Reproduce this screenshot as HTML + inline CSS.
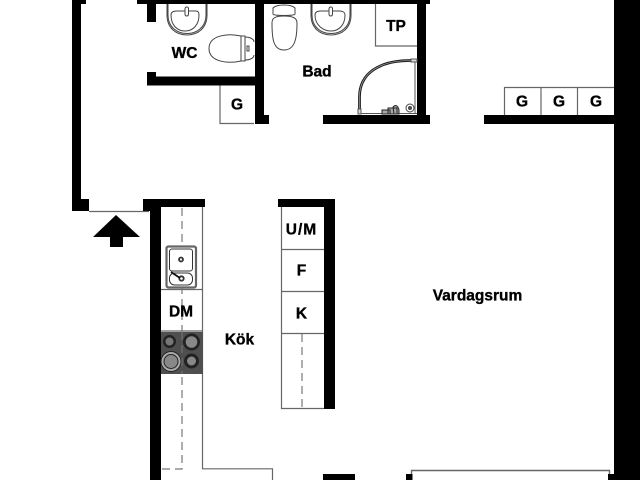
<!DOCTYPE html>
<html><head><meta charset="utf-8"><style>
html,body{margin:0;padding:0;background:#fff;width:640px;height:480px;overflow:hidden}
svg{display:block}
text{font-family:"Liberation Sans",sans-serif;font-weight:700;font-size:15.5px;text-anchor:middle;fill:#000;stroke:#000;stroke-width:.35px}
</style></head><body>
<svg width="640" height="480" viewBox="0 0 640 480" xmlns="http://www.w3.org/2000/svg">
<rect width="640" height="480" fill="#fff"/>
<!-- thin lines -->
<g fill="none" stroke="#666" stroke-width="1.200">
<path d="M220 85V123.500H254"/>
<path d="M375.500 4V46H417"/>
<path d="M504.500 115V87.500H614M541 87.500V115M577.500 87.500V115"/>
<path d="M89 211.500H149"/>
<path d="M202.500 206V468.800H272.500V480"/>
<path d="M161 289.500H203M161 331H203"/>
<path d="M281.500 206V408.500H324M281 249.500H324M281 291.500H324M281 333.500H324"/>
<path d="M411.500 474V470.500H609.500V474" stroke-width="1.400"/>
<path d="M182 208V469H161M302 334V408" stroke-dasharray="8 5" stroke="#777"/>
</g>
<!-- walls -->
<g fill="#000">
<rect x="72" y="0" width="9" height="211"/><rect x="72" y="0" width="14" height="4"/>
<rect x="72" y="199" width="17" height="12"/>
<rect x="137" y="0" width="293" height="4"/>
<rect x="147" y="0" width="9" height="22"/>
<rect x="147" y="72" width="9" height="13.500"/><rect x="147" y="76.500" width="108" height="9"/>
<rect x="255" y="0" width="9" height="124"/><rect x="255" y="115" width="14" height="9"/>
<rect x="417" y="0" width="9" height="124"/><rect x="323" y="115" width="107" height="9"/>
<rect x="484" y="115" width="130" height="9"/>
<rect x="614" y="0" width="26" height="480"/><rect x="608" y="474" width="6" height="6"/>
<rect x="143" y="199" width="62" height="8"/><rect x="143" y="199" width="7" height="12"/>
<rect x="150" y="199" width="11" height="281"/>
<rect x="278" y="199" width="57" height="8"/><rect x="324" y="199" width="11" height="210"/>
<rect x="323" y="474" width="32" height="6"/><rect x="406" y="474" width="6.500" height="6"/>
<path d="M116 215L140 237H123V247H110V237H93Z"/>
</g>
<!-- WC sink -->
<g fill="none" stroke="#444" stroke-width="1">
<path d="M167 4V15C167 28 176 35 187 35C198 35 207 28 207 15V4"/>
<path d="M168 4V15C168 27 177 33.500 187 33.500C197 33.500 206 27 206 15V4"/>
<path d="M171 15C171 12 174 11 177 11H196C198 11 199 12 199 15C199 25 193 31 185 31C177 31 171 25 171 15Z"/>
<rect x="185" y="7" width="3.500" height="9" rx="1.700" fill="#fff"/>
<!-- WC toilet -->
<path d="M241 36C228 33 209 35 209 48.500C209 62 228 64 241 61Z"/>
<path d="M241 36H245V61H241M245 37C250 37 254 39 254 42M245 60C250 60 254 58 254 55M241 36V61"/>
<rect x="247" y="46" width="2" height="5"/>
<!-- Bad sink -->
<path d="M311 4V15C311 28 320 35 331 35C342 35 351 28 351 15V4"/>
<path d="M312 4V15C312 27 321 33.500 331 33.500C341 33.500 350 27 350 15V4"/>
<path d="M315 15C315 12 318 11 321 11H340C342 11 345 12 345 15C345 25 339 31 331 31C323 31 315 25 315 15Z"/>
<rect x="329" y="7" width="3.500" height="9" rx="1.700" fill="#fff"/>
<!-- Bad toilet -->
<path d="M273 8C277 4 291 4 295 8V14C295 16 273 16 273 14Z"/>
<path d="M272 23C272 18 275 16 284 16C293 16 297 18 297 23C297 38 295 50 284 50C273 50 272 38 272 23Z"/>
<!-- shower -->
<path d="M415 60V113M359 113.500H417" stroke="#555"/>
<path d="M359.500 110V97C359.500 74 378 60.500 411 60.500" stroke="#222" stroke-width="2.800"/>
<path d="M359.500 110V97C359.500 74 378 60.500 411 60.500" stroke="#bbb" stroke-width="0.600"/>
<rect x="411" y="59" width="6" height="3" fill="#ddd" stroke="#555"/>
<rect x="358" y="109" width="3" height="5" fill="#ddd" stroke="#555"/>
<circle cx="410" cy="108" r="4"/><circle cx="410" cy="108" r="1.500" fill="#555"/>
<path d="M382 110H390V114H382ZM388 108H397V114H388ZM393 107C396 104 398 106 399 110V114H394Z" fill="#aaa" stroke="#222"/>
</g>
<!-- kitchen sink -->
<rect x="166.500" y="246.500" width="29.500" height="41" rx="2" fill="#fff" stroke="#666" stroke-width="2.200"/>
<g fill="none" stroke="#333" stroke-width="1">
<rect x="169.500" y="249" width="23" height="22" rx="2.500"/>
<rect x="169.500" y="273" width="23" height="12" rx="5"/>
<circle cx="181" cy="259.500" r="2" stroke-width="1.800"/>
<circle cx="181.500" cy="278.500" r="2.200" stroke-width="1.800"/>
<path d="M171 272L180 278" stroke="#111" stroke-width="1.800"/>
</g>
<!-- stove -->
<rect x="161" y="332" width="42" height="42" fill="#4f4f4f"/>
<path d="M182 332V374" stroke="#777" stroke-dasharray="8 5"/>
<g>
<circle cx="169.500" cy="341.500" r="6.500" fill="#222"/><circle cx="169.500" cy="341.500" r="4" fill="#777"/>
<circle cx="191.500" cy="342" r="8.500" fill="#222"/><circle cx="191.500" cy="342" r="5.800" fill="#888"/>
<circle cx="171" cy="361.500" r="10" fill="#aaa" stroke="#222"/><circle cx="171" cy="361.500" r="7" fill="#888" stroke="#222"/>
<circle cx="191.500" cy="361" r="7.500" fill="#222"/><circle cx="191.500" cy="361" r="4.500" fill="#888"/>
</g>
<!-- labels -->
<text x="184.500" y="58">WC</text>
<text x="237" y="109.500">G</text>
<text x="396" y="31">TP</text>
<text x="317" y="76.500">Bad</text>
<text x="522" y="106.500">G</text>
<text x="559" y="106.500">G</text>
<text x="596" y="106.500">G</text>
<text x="301.500" y="234.500" letter-spacing="1">U/M</text>
<text x="301.500" y="275.500">F</text>
<text x="301.500" y="318.500">K</text>
<text x="181" y="316.500">DM</text>
<text x="239.500" y="344.500">Kök</text>
<text x="477.500" y="300.500">Vardagsrum</text>
</svg>
</body></html>
